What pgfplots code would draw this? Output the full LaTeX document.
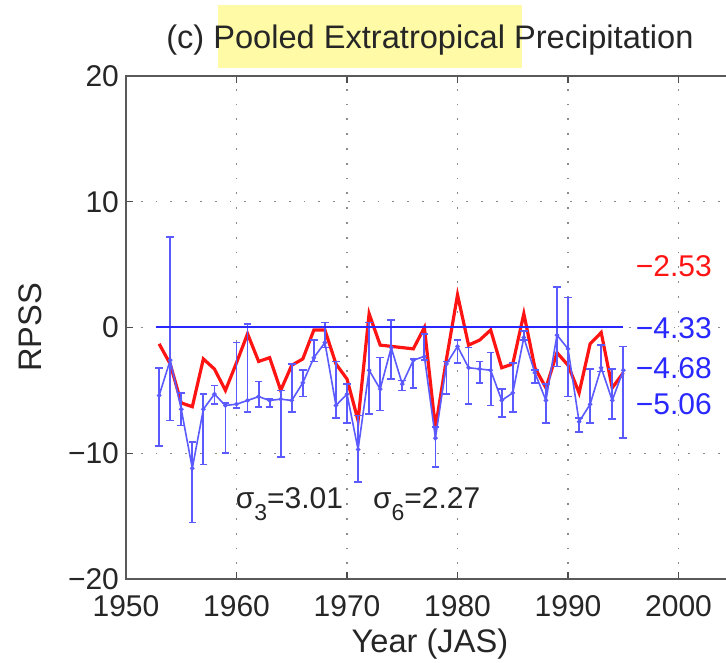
\documentclass[border=0pt]{standalone}
\usepackage{fontspec}
\setmainfont{Liberation Sans}
\usepackage{pgfplots}
\pgfplotsset{compat=1.18}
\usepackage{pgfplotstable}

\definecolor{mred}{RGB}{255,20,20}
\definecolor{mblue}{RGB}{90,90,255}
\definecolor{zblue}{RGB}{40,40,255}
\definecolor{hl}{RGB}{255,250,165}

\pgfplotstableread{
year y
1953 -1.3
1954 -2.9
1955 -6.0
1956 -6.3
1957 -2.5
1958 -3.3
1959 -5.0
1960 -2.8
1961 -0.5
1962 -2.7
1963 -2.4
1964 -5.0
1965 -3.0
1966 -2.5
1967 -0.2
1968 -0.2
1969 -2.9
1970 -4.1
1971 -7.4
1972 1.1
1973 -1.4
1974 -1.5
1975 -1.6
1976 -1.7
1977 0.0
1978 -8.0
1979 -2.5
1980 2.6
1981 -1.4
1982 -1.0
1983 -0.2
1984 -3.2
1985 -2.9
1986 1.1
1987 -3.2
1988 -4.8
1989 -2.0
1990 -3.0
1991 -5.2
1992 -1.3
1993 -0.4
1994 -4.8
1995 -3.6
}\reddata

\pgfplotstableread{
year y lo hi
1953 -5.4 -9.4 -3.2
1954 -2.6 -7.4 7.2
1955 -6.5 -7.8 -5.2
1956 -11.2 -15.5 -9.1
1957 -6.5 -10.9 -5.3
1958 -5.3 -6.1 -4.6
1959 -6.2 -10.0 -6.0
1960 -6.1 -6.4 -1.2
1961 -5.8 -6.7 0.3
1962 -5.5 -6.3 -4.3
1963 -5.8 -6.3 -5.7
1964 -5.7 -10.3 -5.0
1965 -5.8 -6.7 -2.9
1966 -4.4 -5.5 -3.4
1967 -2.4 -2.7 -1.0
1968 -1.2 -1.6 0.4
1969 -6.2 -7.2 -2.7
1970 -5.3 -7.6 -4.5
1971 -9.7 -12.3 -7.0
1972 -3.4 -6.9 0.4
1973 -4.9 -6.6 -2.4
1974 -1.6 -4.1 0.6
1975 -4.5 -5.0 -4.2
1976 -2.6 -4.8 -2.5
1977 -2.3 -2.6 -0.5
1978 -8.8 -11.1 -7.9
1979 -2.9 -5.3 -2.7
1980 -1.5 -2.8 -1.0
1981 -3.2 -6.1 -1.6
1982 -3.3 -4.4 -2.7
1983 -3.4 -6.2 -2.0
1984 -5.8 -7.1 -4.9
1985 -5.2 -6.7 -2.8
1986 -0.8 -1.0 -0.3
1987 -3.6 -4.4 -3.4
1988 -5.8 -7.6 -4.5
1989 -0.6 -3.1 3.2
1990 -1.7 -5.5 2.4
1991 -7.5 -8.3 -7.2
1992 -6.1 -7.6 -3.3
1993 -3.2 -3.5 -1.4
1994 -5.8 -7.3 -3.3
1995 -3.4 -8.8 -1.5
}\bluedata

\pgfplotstableread{
x y
1952.7 0
1995.0 0
}\zeroline

\begin{document}
\begin{tikzpicture}
\begin{axis}[
  scale only axis, width=303.9pt, height=251.5pt,
  xmin=1950, xmax=2005, ymin=-20, ymax=20,
  xtick={1950,1960,1970,1980,1990,2000},
  xticklabels={1950,1960,1970,1980,1990,2000},
  ytick={-20,-10,0,10,20},
  yticklabels={−20,−10,0,10,20},
  tick align=inside, major tick length=3.5pt,
  tick style={black!70, line width=0.6pt},
  grid=major,
  grid style={black!45, line width=0.6pt, dash pattern=on 0.9pt off 6.5pt},
  axis line style={draw=none},
  /pgf/number format/assume math mode=true,
  ticklabel style={font=\fontsize{15}{18}\selectfont, text=black!85},
  xticklabel style={yshift=-4.5pt},
  clip=false,
]
\addplot[draw=mred, line width=1.6pt, mark=none] table[x=year, y=y]{\reddata};
% vertical spread bars (lo to hi)
\addplot[draw=mblue, line width=0.9pt, mark=none,
  quiver={u=0, v=\thisrow{hi}-\thisrow{lo}}]
  table[x=year, y=lo]{\bluedata};
% caps
\addplot[only marks, mark=-, mark size=1.9pt, mark options={draw=mblue, line width=0.8pt}]
  table[x=year, y=hi]{\bluedata};
\addplot[only marks, mark=-, mark size=1.9pt, mark options={draw=mblue, line width=0.8pt}]
  table[x=year, y=lo]{\bluedata};
% centre line
\addplot[draw=mblue, line width=0.8pt, mark=*, mark size=0.7pt, mark options={fill=mblue, draw=mblue}]
  table[x=year, y=y]{\bluedata};
\addplot[draw=zblue, line width=1.0pt, mark=none] table[x=x, y=y]{\zeroline};

\node[anchor=west, inner sep=0pt, text=mred, font=\fontsize{15}{18}\selectfont] at (axis cs:1996.1,4.9) {−2.53};
\node[anchor=west, inner sep=0pt, text=zblue, font=\fontsize{15}{18}\selectfont] at (axis cs:1996.1,-0.05) {−4.33};
\node[anchor=west, inner sep=0pt, text=zblue, font=\fontsize{15}{18}\selectfont] at (axis cs:1996.1,-3.2) {−4.68};
\node[anchor=west, inner sep=0pt, text=zblue, font=\fontsize{15}{18}\selectfont] at (axis cs:1996.1,-6.1) {−5.06};

\node[anchor=base west, inner sep=0pt, font=\fontsize{15}{18}\selectfont, text=black!85] at (axis cs:1959.9,-14.4)
  {σ\raisebox{-0.4em}{\fontsize{11.5}{12}\selectfont 3}=3.01\hspace{1em}σ\raisebox{-0.4em}{\fontsize{11.5}{12}\selectfont 6}=2.27};

\draw[black!65, line width=0.9pt] (rel axis cs:1,1) -- (rel axis cs:0,1) -- (rel axis cs:0,0) -- (rel axis cs:1,0);

\coordinate (NW) at (rel axis cs:0,1);
\coordinate (SW) at (rel axis cs:0,0);
\coordinate (N) at (rel axis cs:0.5,1);
\coordinate (S) at (rel axis cs:0.5,0);
\coordinate (W) at (rel axis cs:0,0.5);
\end{axis}
\fill[hl] ([xshift=46pt,yshift=4pt]NW) rectangle ([xshift=198pt,yshift=35.5pt]NW);
\node[font=\fontsize{16.3}{19}\selectfont, text=black!85] at ([yshift=18pt]N) {(c) Pooled Extratropical Precipitation};
\node[font=\fontsize{16.3}{19}\selectfont, text=black!85] at ([yshift=-32.5pt]S) {Year (JAS)};
\node[font=\fontsize{16.3}{19}\selectfont, text=black!85, rotate=90] at ([xshift=-48pt]W) {RPSS};
\pgfresetboundingbox
\path[use as bounding box] ([xshift=-63pt,yshift=-41.5pt]SW) rectangle ([xshift=300pt,yshift=38pt]NW);
\end{tikzpicture}
\end{document}
